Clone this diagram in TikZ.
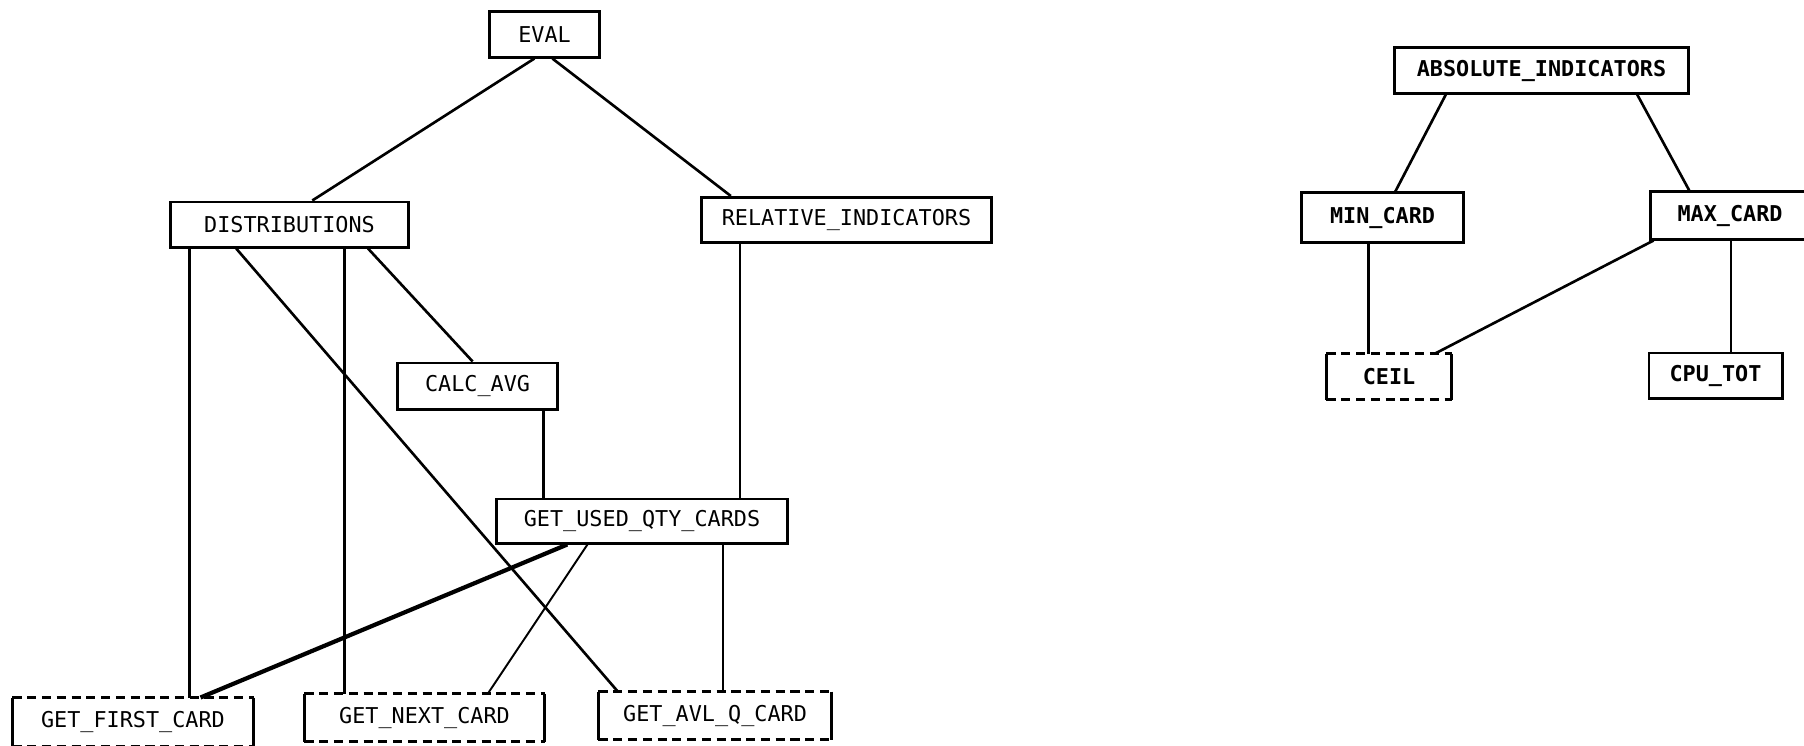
\documentclass[tikz,border=0pt]{standalone}
\usepackage{fontspec}
\setmonofont{DejaVu Sans Mono}
\usetikzlibrary{calc}
\tikzset{
  module/.style={draw, line width=0.85pt, inner sep=0pt, minimum height=0.45cm,
    font=\ttfamily\fontsize{6.2}{7}\selectfont},
  stub/.style={module, draw=none},
  heavy/.style={font=\ttfamily\bfseries\fontsize{6.2}{7}\selectfont},
  link/.style={line width=0.75pt},
}
\begin{document}
\begin{tikzpicture}[x=0.01cm,y=-0.01cm]
\useasboundingbox (0,0) rectangle (1804,745);
% left tree
\node[module, minimum width=1.09cm] (eval) at (544.5,34.5) {EVAL};
\node[module, minimum width=2.37cm] (dist) at (289.5,224.5) {DISTRIBUTIONS};
\node[module, minimum width=2.89cm] (rel) at (846.5,220) {RELATIVE\_INDICATORS};
\node[module, minimum width=1.59cm, minimum height=0.46cm] (calc) at (477.5,386) {CALC\_AVG};
\node[module, minimum width=2.90cm, minimum height=0.44cm] (used) at (642,521) {GET\_USED\_QTY\_CARDS};
\node[stub, minimum width=2.38cm, minimum height=0.46cm] (first) at (133,722) {GET\_FIRST\_CARD};
\node[stub, minimum width=2.37cm] (next) at (424.5,717.5) {GET\_NEXT\_CARD};
\node[stub, minimum width=2.30cm] (avl) at (715,715.5) {GET\_AVL\_Q\_CARD};
% right tree
\node[module, heavy, minimum width=2.93cm] (abs) at (1541.5,70.5) {ABSOLUTE\_INDICATORS};
\node[module, heavy, minimum width=1.61cm, minimum height=0.49cm] (min) at (1382.5,217.5) {MIN\_CARD};
\node[module, heavy, minimum width=1.58cm, minimum height=0.47cm] (max) at (1730,215.5) {MAX\_CARD};
\node[stub, heavy, minimum width=1.22cm, minimum height=0.43cm] (ceil) at (1389,376.5) {CEIL};
\node[module, heavy, minimum width=1.33cm] (cpu) at (1715.5,375.5) {CPU\_TOT};
% dashed boxes: dashed top and bottom, solid sides
\foreach \n in {first,next,avl,ceil} {
  \draw[line width=0.85pt, dash pattern=on 2.6pt off 1.6pt]
    (\n.north west) -- (\n.north east) (\n.south west) -- (\n.south east);
  \draw[line width=0.85pt] (\n.north west) -- (\n.south west) (\n.north east) -- (\n.south east);
}
% connectors, left tree
\draw[link] ($(eval.south west)!0.41!(eval.south east)$) -- ($(dist.north west)!0.595!(dist.north east)$);
\draw[link] ($(eval.south west)!0.57!(eval.south east)$) -- ($(rel.north west)!0.104!(rel.north east)$);
\draw[link] ($(dist.south west)!0.084!(dist.south east)$) coordinate (d1) -- (d1 |- first.north);
\draw[link] ($(dist.south west)!0.73!(dist.south east)$) coordinate (d2) -- (d2 |- next.north);
\draw[link] ($(dist.south west)!0.278!(dist.south east)$) -- ($(avl.north west)!0.083!(avl.north east)$);
\draw[link] ($(dist.south west)!0.827!(dist.south east)$) -- ($(calc.north west)!0.47!(calc.north east)$);
\draw[link] ($(calc.south west)!0.906!(calc.south east)$) coordinate (c1) -- (c1 |- used.north);
\draw[link] ($(rel.south west)!0.135!(rel.south east)$) coordinate (r1) -- (r1 |- used.north);
\draw[line width=1.2pt] ($(used.south west)!0.245!(used.south east)$) -- ($(first.north west)!0.78!(first.north east)$);
\draw[line width=0.55pt] ($(used.south west)!0.314!(used.south east)$) -- ($(next.north west)!0.764!(next.north east)$);
\draw[link] ($(used.south west)!0.776!(used.south east)$) coordinate (u1) -- (u1 |- avl.north);
% connectors, right tree
\draw[link] ($(abs.south west)!0.177!(abs.south east)$) -- ($(min.north west)!0.578!(min.north east)$);
\draw[link] ($(abs.south west)!0.823!(abs.south east)$) -- ($(max.north west)!0.247!(max.north east)$);
\draw[link] ($(min.south west)!0.416!(min.south east)$) coordinate (m1) -- (m1 |- ceil.north);
\draw[link] ($(max.south west)!0.025!(max.south east)$) -- ($(ceil.north west)!0.869!(ceil.north east)$);
\draw[link] ($(max.south west)!0.506!(max.south east)$) coordinate (m2) -- (m2 |- cpu.north);
\end{tikzpicture}
\end{document}
